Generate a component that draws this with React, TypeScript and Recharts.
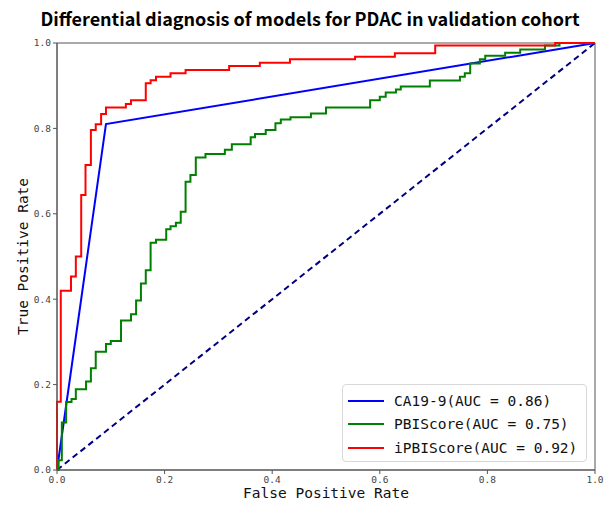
import { LineChart, Line, XAxis, YAxis, ReferenceArea } from 'recharts';

// ROC corner points (tpr value reached at each fpr)
const caFpr = [0, 0.091, 1];
const caTpr = [0, 0.81, 1];

const pbiFpr = [
  0, 0.003, 0.009, 0.017, 0.027, 0.035, 0.054, 0.063, 0.072, 0.091, 0.1, 0.119, 0.1375, 0.147,
  0.156, 0.165, 0.174, 0.184, 0.203, 0.211, 0.221, 0.23, 0.239, 0.248, 0.258, 0.276, 0.312,
  0.325, 0.36, 0.368, 0.388, 0.406, 0.416, 0.434, 0.472, 0.5, 0.582, 0.6, 0.611, 0.63, 0.639,
  0.693, 0.749, 0.758, 0.768, 0.786, 0.796, 0.833, 0.861, 0.907, 0.934, 1,
];
const pbiTpr = [
  0, 0.023, 0.111, 0.159, 0.166, 0.189, 0.207, 0.238, 0.277, 0.295, 0.302, 0.35, 0.365, 0.397,
  0.437, 0.468, 0.532, 0.539, 0.564, 0.571, 0.579, 0.605, 0.675, 0.691, 0.732, 0.74, 0.75,
  0.763, 0.779, 0.787, 0.796, 0.812, 0.821, 0.826, 0.835, 0.849, 0.866, 0.874, 0.884, 0.891,
  0.898, 0.912, 0.921, 0.929, 0.952, 0.962, 0.97, 0.977, 0.985, 0.994, 1, 1,
];

const ipbiFpr = [
  0, 0, 0.007, 0.026, 0.035, 0.045, 0.053, 0.063, 0.072, 0.082, 0.091, 0.128, 0.1375, 0.165,
  0.174, 0.184, 0.211, 0.239, 0.32, 0.377, 0.433, 0.554, 0.628, 0.703, 0.926, 1,
];
const ipbiTpr = [
  0, 0.16, 0.42, 0.453, 0.5, 0.644, 0.714, 0.796, 0.81, 0.834, 0.849, 0.857, 0.866, 0.906,
  0.913, 0.921, 0.929, 0.937, 0.946, 0.954, 0.962, 0.968, 0.976, 0.994, 1, 1,
];

const chanceFpr = [0, 1];
const chanceTpr = [0, 1];

const ticks = [0, 0.2, 0.4, 0.6, 0.8, 1];

const series = [
  { name: 'CA19-9(AUC = 0.86)', color: '#0000ff' },
  { name: 'PBIScore(AUC = 0.75)', color: '#008000' },
  { name: 'iPBIScore(AUC = 0.92)', color: '#ff0000' },
];

const toPoints = (xs: number[], ys: number[]) => xs.map((x, i) => ({ fpr: x, tpr: ys[i] }));

const mono = '"DejaVu Sans Mono", monospace';

const tickStyle = { fontSize: 9.5, fill: '#444', fontFamily: mono };

function LegendBox() {
  return (
    <div
      style={{
        position: 'absolute',
        left: 342,
        top: 384,
        width: 245,
        height: 78,
        border: '1px solid #d8d8d8',
        borderRadius: 4,
        background: 'rgba(255,255,255,0.9)',
        boxSizing: 'border-box',
        paddingTop: 4,
      }}
    >
      {series.map((s) => (
        <div key={s.name} style={{ display: 'flex', alignItems: 'center', height: 23.5 }}>
          <div style={{ width: 36, height: 2, background: s.color, marginLeft: 5, marginRight: 10 }} />
          <span style={{ fontFamily: mono, fontSize: 14.5, color: '#111' }}>{s.name}</span>
        </div>
      ))}
    </div>
  );
}

export default function App() {
  return (
    <div style={{ position: 'absolute', left: 0, top: 0, width: 614, height: 506, background: '#fff' }}>
      <div
        style={{
          position: 'absolute',
          top: 5,
          left: 0,
          width: 620,
          textAlign: 'center',
          fontFamily: '"Noto Sans CJK SC", "Noto Sans", sans-serif',
          fontWeight: 700,
          fontSize: 18,
          color: '#000',
        }}
      >
        Differential diagnosis of models for PDAC in validation cohort
      </div>
      <LineChart width={614} height={506} margin={{ top: 43, right: 19, bottom: 0, left: 0 }}>
        <XAxis
          type="number"
          dataKey="fpr"
          domain={[0, 1]}
          ticks={ticks}
          tickFormatter={(v) => v.toFixed(1)}
          allowDuplicatedCategory={false}
          height={36}
          stroke="#555"
          tickSize={4}
          tick={tickStyle}
          label={{ value: 'False Positive Rate', position: 'center', dy: 5, style: { fontFamily: mono, fontSize: 14.5, fill: '#111' } }}
        />
        <YAxis
          type="number"
          dataKey="tpr"
          domain={[0, 1]}
          ticks={ticks}
          tickFormatter={(v) => v.toFixed(1)}
          width={57}
          stroke="#555"
          tickSize={4}
          tick={tickStyle}
          label={{ value: 'True Positive Rate', angle: -90, position: 'center', dx: -6, style: { fontFamily: mono, fontSize: 14.5, fill: '#111' } }}
        />
        <ReferenceArea x1={0} x2={1} y1={0} y2={1} fill="none" stroke="#555" strokeWidth={1} ifOverflow="visible" />
        <Line
          data={toPoints(chanceFpr, chanceTpr)}
          dataKey="tpr"
          type="linear"
          stroke="#000080"
          strokeWidth={2}
          strokeDasharray="6 4"
          dot={false}
          isAnimationActive={false}
        />
        <Line
          data={toPoints(caFpr, caTpr)}
          dataKey="tpr"
          name={series[0].name}
          type="linear"
          stroke={series[0].color}
          strokeWidth={2}
          dot={false}
          isAnimationActive={false}
        />
        <Line
          data={toPoints(pbiFpr, pbiTpr)}
          dataKey="tpr"
          name={series[1].name}
          type="stepAfter"
          stroke={series[1].color}
          strokeWidth={2}
          dot={false}
          isAnimationActive={false}
        />
        <Line
          data={toPoints(ipbiFpr, ipbiTpr)}
          dataKey="tpr"
          name={series[2].name}
          type="stepAfter"
          stroke={series[2].color}
          strokeWidth={2}
          dot={false}
          isAnimationActive={false}
        />
      </LineChart>
      <LegendBox />
    </div>
  );
}
